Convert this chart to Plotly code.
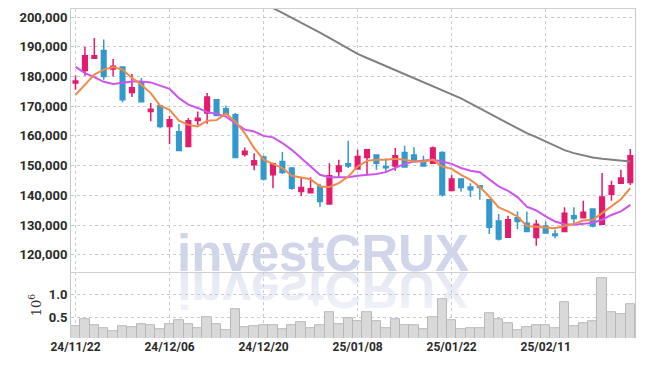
import base64
import plotly.graph_objects as go

dates = ["24/11/22","24/11/25","24/11/26","24/11/27","24/11/28","24/11/29",
         "24/12/02","24/12/03","24/12/04","24/12/05","24/12/06","24/12/09",
         "24/12/10","24/12/11","24/12/12","24/12/13","24/12/16","24/12/17",
         "24/12/18","24/12/19","24/12/20","24/12/23","24/12/24","24/12/26",
         "24/12/27","24/12/30","25/01/02","25/01/03","25/01/06","25/01/07",
         "25/01/08","25/01/09","25/01/10","25/01/13","25/01/14","25/01/15",
         "25/01/16","25/01/17","25/01/20","25/01/21","25/01/22","25/01/23",
         "25/01/24","25/01/31","25/02/03","25/02/04","25/02/05","25/02/06",
         "25/02/07","25/02/10","25/02/11","25/02/12","25/02/13","25/02/14",
         "25/02/17","25/02/18","25/02/19","25/02/20","25/02/21","25/02/24"]

open_ = [177800,182000,186100,188700,182500,183200,174600,178000,168200,170100,
         163200,161400,156400,165200,167700,172200,169100,167100,153700,150300,
         152900,146900,151400,149200,141300,140900,143000,137100,148000,150600,
         148900,152700,153600,149700,149900,154400,153600,151000,150800,154400,
         141600,145500,142800,143200,138500,131400,125900,132500,130600,125800,
         129700,127000,127800,133100,132500,135400,130300,140400,144100,144300]
high = [180300,190000,192900,192400,185900,183300,180800,179500,171100,170200,
        166800,164000,166000,168200,174400,172300,170100,167700,156100,154200,
        153300,151000,154600,149300,146100,146100,143900,150800,152000,158400,
        155300,155600,153700,152500,155900,156700,156200,153300,156400,154800,
        146900,145500,144100,143300,138600,133700,133100,134600,134600,131800,
        131200,128400,136000,136000,138200,135500,147500,144900,148600,155600]
low = [175500,180200,186000,178900,180000,171300,173100,171300,164900,162600,
       157200,154800,156300,163700,164100,166600,167200,152700,153100,148400,
       145000,142400,147200,141900,139800,140600,136200,136800,146100,149200,
       148600,146900,148600,147700,148300,149400,151300,149900,150700,139600,
       141500,141300,139400,138500,127000,124800,125800,128600,127700,123000,
       127200,125600,127700,130600,132400,129300,130200,138200,144000,143500]
close = [178500,187000,187000,180000,183400,172200,176200,171500,169000,163200,
         165400,155100,165100,165900,173100,166900,167300,152700,154800,151600,
         145500,150600,147700,142400,142600,142200,137900,146600,149900,149900,
         153100,155300,150800,149300,153300,149500,151400,149900,155900,140200,
         145500,142600,141900,142600,129300,125300,131800,131200,127800,130300,
         127300,126500,134000,132200,134300,129700,139400,143200,145800,153300]

ma5 = [173800,177200,180600,182300,183200,182300,179500,177200,174400,170200,
       168800,165100,163700,163200,165100,165300,167500,164800,160900,155900,
       152000,150600,149200,146600,146000,145400,143000,142800,144100,146300,
       149700,151600,152000,152000,152300,152000,151400,151400,152000,149700,
       148900,146900,145200,142800,139600,135900,134600,132900,129700,129500,
       129200,128900,129700,130400,131500,131800,134000,136200,138700,142400]
ma20 = [183200,181100,179800,178200,177500,178000,178300,178300,178000,176900,
        175800,172700,170500,169400,168000,167400,166500,164300,162100,161500,
        160000,159500,157600,155300,152500,149700,146900,146100,146000,146100,
        146600,146900,147200,147800,149200,150600,151400,151600,152000,151400,
        150600,149200,148300,147800,145300,143000,141500,139400,136200,134900,
        132900,131200,130300,130100,130400,130800,131800,133400,134600,136800]
ma_long = [None]*19 + [205800,204500,203000,201400,199800,198150,196500,194750,
           193000,191200,189400,187600,186200,184850,183500,182100,180800,179450,
           178100,176700,175350,174100,172600,170900,169300,167600,165900,164200,
           162600,160900,159600,158200,156700,155200,154200,153400,152700,152300,
           151950,151650,151400]

volume_m = [0.31,0.46,0.33,0.26,0.20,0.31,0.28,0.35,0.33,0.25,
            0.35,0.44,0.35,0.26,0.50,0.35,0.22,0.67,0.28,0.31,
            0.33,0.33,0.25,0.33,0.39,0.26,0.33,0.61,0.35,0.48,
            0.42,0.62,0.42,0.26,0.46,0.33,0.33,0.24,0.50,0.89,
            0.44,0.25,0.26,0.26,0.59,0.46,0.37,0.22,0.28,0.33,
            0.33,0.26,0.83,0.31,0.37,0.42,1.35,0.61,0.57,0.79]

tick_dates = dates[::10]
price_ticks = list(range(120000, 200001, 10000))
vol_ticks = [0.5, 1.0]

UP = "#e31b6d"
DOWN = "#3399cc"
GRID = "#c9cadc"
FONT = "Roboto"
WM = "#d0d5e9"

fig = go.Figure()
fig.add_trace(go.Bar(
    x=dates, y=volume_m, xaxis="x2", yaxis="y2", width=1.0,
    marker=dict(color="#d9d9d9", line=dict(color="#b8b8b8", width=1)),
    showlegend=False, hoverinfo="skip"))
fig.add_trace(go.Candlestick(
    x=dates, open=open_, high=high, low=low, close=close,
    increasing=dict(line=dict(color=UP, width=1.5), fillcolor=UP),
    decreasing=dict(line=dict(color=DOWN, width=1.5), fillcolor=DOWN),
    whiskerwidth=0, showlegend=False, xaxis="x", yaxis="y"))
fig.add_trace(go.Scatter(x=dates, y=ma_long, mode="lines",
                         line=dict(color="#808080", width=2), showlegend=False))
fig.add_trace(go.Scatter(x=dates, y=ma20, mode="lines",
                         line=dict(color="#cc55ee", width=2), showlegend=False))
fig.add_trace(go.Scatter(x=dates, y=ma5, mode="lines",
                         line=dict(color="#f08a4b", width=2), showlegend=False))

svg = ('<svg xmlns="http://www.w3.org/2000/svg" width="320" height="60" viewBox="0 0 320 60">'
       '<defs><linearGradient id="g" x1="0" y1="0" x2="0" y2="1">'
       '<stop offset="0" stop-color="#d6daec" stop-opacity="0.3"/>'
       '<stop offset="1" stop-color="#d6daec" stop-opacity="0.75"/>'
       '</linearGradient></defs>'
       '<text x="160" y="0" transform="scale(1,-1)" text-anchor="middle" '
       'font-family="Liberation Sans" font-weight="bold" font-size="51" fill="url(#g)">investCRUX</text>'
       '</svg>')
src = "data:image/svg+xml;base64," + base64.b64encode(svg.encode()).decode()

axis_common = dict(showgrid=True, gridcolor=GRID, griddash="dot", gridwidth=1,
                   zeroline=False, ticks="", automargin=False)
yfont = dict(family=FONT, size=13, color="#2a2a2a", weight="bold")
xfont = dict(family=FONT, size=12, color="#2a2a2a", weight="bold")

fig.update_layout(
    width=645, height=366,
    margin=dict(l=63, r=18, t=1, b=36),
    paper_bgcolor="white", plot_bgcolor="rgba(0,0,0,0)",
    bargap=0,
    xaxis=dict(type="category", domain=[0, 1], anchor="y", range=[-0.48, 59.5],
               tickvals=tick_dates, showticklabels=False, showline=True,
               linecolor="#d0d0d0", mirror=True, rangeslider=dict(visible=False),
               **axis_common),
    xaxis2=dict(type="category", domain=[0, 1], anchor="y2", matches="x",
                tickvals=tick_dates, ticktext=tick_dates, showline=False,
                tickfont=xfont, **axis_common),
    yaxis=dict(domain=[0.2, 1], range=[114140, 202690], tickvals=price_ticks,
               tickformat=",d", showline=True, linecolor="#c8c8c8", mirror=True,
               tickfont=yfont, **axis_common),
    yaxis2=dict(domain=[0, 0.2], range=[0.05, 1.478], tickvals=vol_ticks,
                tickformat=".1f", showline=True, linecolor="#c8c8c8", mirror=True,
                tickfont=yfont,
                title=dict(text="10<sup>6</sup>", standoff=4,
                           font=dict(family="DejaVu Serif", size=13, color="#333")),
                **axis_common),
    annotations=[dict(text="investCRUX", xref="paper", yref="paper", x=0.447, y=0.165,
                      xanchor="center", yanchor="bottom", showarrow=False,
                      font=dict(family="Liberation Sans", size=51, color=WM, weight="bold"))],
    images=[dict(source=src, xref="paper", yref="paper", x=0.447, y=0.2,
                 sizex=320/564, sizey=60/329, xanchor="center", yanchor="top",
                 layer="below", sizing="stretch")],
)

fig.write_html("out.html")
